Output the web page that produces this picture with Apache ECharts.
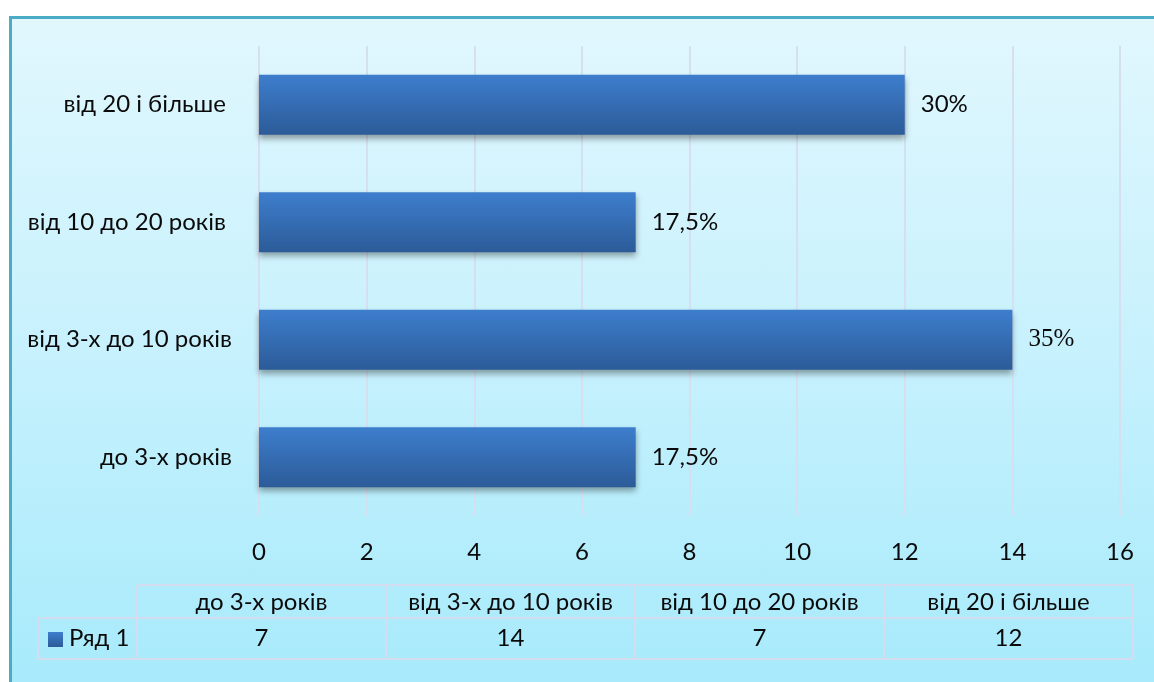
<!DOCTYPE html>
<html>
<head>
<meta charset="utf-8">
<script src="https://cdn.jsdelivr.net/npm/echarts@6/dist/echarts.min.js"></script>
<style>
  html, body { margin: 0; padding: 0; background: #ffffff; overflow: hidden; }
  #frame {
    position: absolute; left: 9px; top: 16px; width: 1160px; height: 680px;
    border-left: 3px solid #4bacc6; border-top: 3px solid #4bacc6;
    background: linear-gradient(to bottom, #e1f7fd 0%, #c6f1fd 50%, #a6eafb 100%);
  }
  #chart { position: absolute; left: 0; top: 0; width: 1154px; height: 682px; }
</style>
</head>
<body>
<div id="frame"></div>
<div id="chart"></div>
<script>
// категорії (знизу вгору, як на осі)
const categories = ['до 3-х років', 'від 3-х до 10 років', 'від 10 до 20 років ', 'від 20 і більше '];
// значення ряду
const values = [7, 14, 7, 12];
// підписи біля стовпців
const percentLabels = ['17,5%', '35%', '17,5%', '30%'];
// шрифт підпису (35% у джерелі — Times)
const labelFonts = ['Lato', 'Liberation Serif', 'Lato', 'Lato'];
const seriesName = 'Ряд 1';

var chartDom = document.getElementById('chart');
var myChart = echarts.init(chartDom);

const FS = 24;
const textColor = '#0a0a0a';

// таблиця даних під графіком
const tblLeft = 137, colW = 249, rowLabelLeft = 38;
const hdrTop = 585, rowTop = 618, rowBottom = 659;
const lineColor = '#d3ddef';
const tableEls = [];
function hline(x1, x2, y) {
  tableEls.push({ type: 'line', shape: { x1: x1, y1: y, x2: x2, y2: y }, style: { stroke: lineColor, lineWidth: 2 } });
}
function vline(x, y1, y2) {
  tableEls.push({ type: 'line', shape: { x1: x, y1: y1, x2: x, y2: y2 }, style: { stroke: lineColor, lineWidth: 2 } });
}
const tblRight = tblLeft + colW * categories.length;
hline(tblLeft, tblRight, hdrTop);
hline(rowLabelLeft, tblRight, rowTop);
hline(rowLabelLeft, tblRight, rowBottom);
vline(rowLabelLeft, rowTop, rowBottom);
for (let i = 0; i <= categories.length; i++) {
  vline(tblLeft + colW * i, hdrTop, rowBottom);
}
categories.forEach(function (c, i) {
  const cx = tblLeft + colW * i + colW / 2;
  tableEls.push({ type: 'text', x: cx, y: (hdrTop + rowTop) / 2 + 1,
    style: { text: c.trim(), font: FS + 'px Lato', fill: textColor, align: 'center', verticalAlign: 'middle' } });
  tableEls.push({ type: 'text', x: cx, y: (rowTop + rowBottom) / 2,
    style: { text: String(values[i]), font: FS + 'px Lato', fill: textColor, align: 'center', verticalAlign: 'middle' } });
});
// ключ легенди
tableEls.push({ type: 'rect', shape: { x: 48, y: 632, width: 15, height: 15 },
  style: { fill: new echarts.graphic.LinearGradient(0, 0, 0, 1, [
    { offset: 0, color: '#3d7ecd' }, { offset: 1, color: '#2c5b98' }]) } });
tableEls.push({ type: 'text', x: 69, y: (rowTop + rowBottom) / 2,
  style: { text: seriesName, font: FS + 'px Lato', fill: textColor, align: 'left', verticalAlign: 'middle' } });

var option = {
  animation: false,
  grid: { left: 259, right: 34, top: 46, bottom: 166 },
  xAxis: {
    type: 'value',
    min: 0,
    max: 16,
    interval: 2,
    axisLine: { show: false },
    axisTick: { show: false },
    axisLabel: { margin: 24, fontFamily: 'Lato', fontSize: FS, color: textColor },
    splitLine: { lineStyle: { color: '#d5dff0', width: 2 } }
  },
  yAxis: {
    type: 'category',
    data: categories,
    axisLine: { show: false },
    axisTick: { show: false },
    axisLabel: { margin: 27, fontFamily: 'Lato', fontSize: FS, color: textColor }
  },
  graphic: tableEls,
  series: [
    {
      name: seriesName,
      type: 'bar',
      barWidth: 60,
      data: values.map(function (v, i) {
        return {
          value: v,
          label: { formatter: percentLabels[i], fontFamily: labelFonts[i],
                   fontSize: labelFonts[i] === 'Lato' ? FS : 25 }
        };
      }),
      itemStyle: {
        color: new echarts.graphic.LinearGradient(0, 0, 0, 1, [
          { offset: 0, color: '#3d7ecd' },
          { offset: 1, color: '#2c5b98' }
        ]),
        shadowColor: 'rgba(0, 0, 0, 0.35)',
        shadowBlur: 6,
        shadowOffsetY: 4
      },
      label: {
        show: true,
        position: 'right',
        distance: 16,
        color: textColor
      }
    }
  ]
};
option && myChart.setOption(option);
</script>
</body>
</html>
